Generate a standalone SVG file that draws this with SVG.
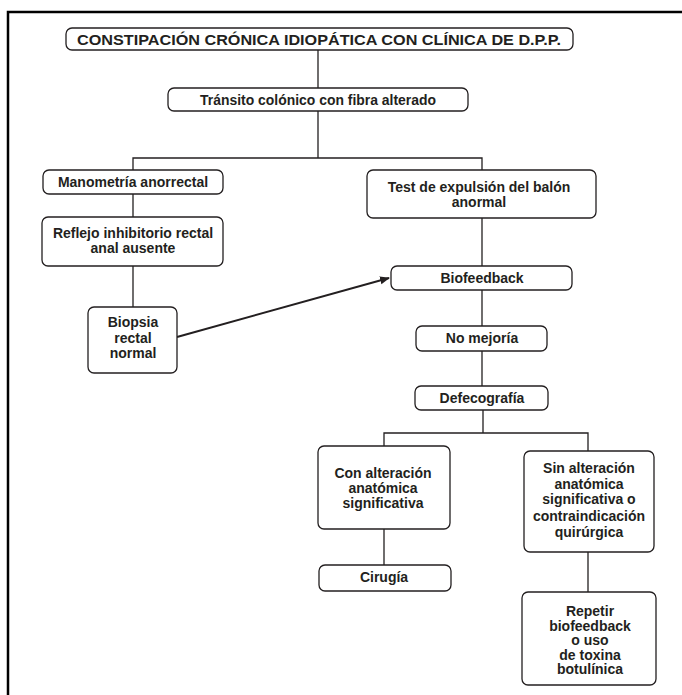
<svg xmlns="http://www.w3.org/2000/svg" width="682" height="695" viewBox="0 0 682 695">
<defs>
<style>
.b{fill:#fff;stroke:#231f20;stroke-width:1.3}
.t{font-family:"Liberation Sans",Arial,sans-serif;font-weight:bold;font-size:14px;fill:#231f20;text-anchor:middle}
.c{fill:none;stroke:#231f20;stroke-width:1.3}
</style>
<marker id="ah" viewBox="0 0 10 10" refX="9" refY="5" markerWidth="10" markerHeight="10" markerUnits="userSpaceOnUse" orient="auto"><path d="M0,1 L10,5 L0,9 z" fill="#231f20"/></marker>
</defs>
<rect width="682" height="695" fill="#fff"/>
<path d="M8,695 V12 H682" fill="none" stroke="#000" stroke-width="2.5"/>
<g id="connectors">
<path class="c" d="M318,50 V88"/>
<path class="c" d="M318,111 V158 M133,170 V158 H482 V170"/>
<path class="c" d="M133,194 V217"/>
<path class="c" d="M133,266 V307"/>
<path class="c" d="M482,218 V266"/>
<path class="c" d="M482,290 V326"/>
<path class="c" d="M482,351 V386"/>
<path class="c" d="M483,410 V433 M384,446 V433 H588 V451"/>
<path class="c" d="M384,529 V565"/>
<path class="c" d="M588,552 V592"/>
<path d="M177,337 L389,278" fill="none" stroke="#231f20" stroke-width="2" marker-end="url(#ah)"/>
</g>
<g id="n1"><rect class="b" x="66" y="28" width="507" height="22" rx="6"/><text class="t" x="319" y="44.5" style="font-size:15.5px" textLength="484" lengthAdjust="spacingAndGlyphs">CONSTIPACIÓN CRÓNICA IDIOPÁTICA CON CLÍNICA DE D.P.P.</text></g>
<g id="n2"><rect class="b" x="168" y="88" width="300" height="23" rx="6"/><text class="t" x="318" y="104.5" style="font-size:14.5px" textLength="236" lengthAdjust="spacingAndGlyphs">Tránsito colónico con fibra alterado</text></g>
<g id="n3"><rect class="b" x="43" y="170" width="180" height="24" rx="6"/><text class="t" x="133" y="187">Manometría anorrectal</text></g>
<g id="n4"><rect class="b" x="42" y="217" width="181" height="49" rx="6"/><text class="t" x="133" y="237.5">Reflejo inhibitorio rectal</text><text class="t" x="133" y="252.5">anal ausente</text></g>
<g id="n5"><rect class="b" x="88" y="307" width="89" height="66" rx="6"/><text class="t" x="133" y="327">Biopsia</text><text class="t" x="133" y="343">rectal</text><text class="t" x="133" y="358">normal</text></g>
<g id="n6"><rect class="b" x="367" y="170" width="229" height="48" rx="6"/><text class="t" x="479" y="192">Test de expulsión del balón</text><text class="t" x="479" y="207">anormal</text></g>
<g id="n7"><rect class="b" x="391" y="266" width="181" height="24" rx="6"/><text class="t" x="482" y="283">Biofeedback</text></g>
<g id="n8"><rect class="b" x="416" y="326" width="131" height="25" rx="6"/><text class="t" x="482" y="343">No mejoría</text></g>
<g id="n9"><rect class="b" x="415" y="386" width="133" height="24" rx="6"/><text class="t" x="482" y="403">Defecografía</text></g>
<g id="n10"><rect class="b" x="318" y="446" width="132" height="83" rx="6"/><text class="t" x="383" y="478">Con alteración</text><text class="t" x="383" y="493">anatómica</text><text class="t" x="383" y="508">significativa</text></g>
<g id="n11"><rect class="b" x="319" y="565" width="132" height="26" rx="6"/><text class="t" x="384" y="582">Cirugía</text></g>
<g id="n12"><rect class="b" x="524" y="451" width="130" height="101" rx="6"/><text class="t" x="589" y="473">Sin alteración</text><text class="t" x="589" y="488.5">anatómica</text><text class="t" x="589" y="504">significativa o</text><text class="t" x="589" y="521">contraindicación</text><text class="t" x="589" y="537">quirúrgica</text></g>
<g id="n13"><rect class="b" x="522" y="592" width="134" height="93" rx="6"/><text class="t" x="590" y="616">Repetir</text><text class="t" x="590" y="630.5">biofeedback</text><text class="t" x="590" y="645">o uso</text><text class="t" x="590" y="659.5">de toxina</text><text class="t" x="590" y="674">botulínica</text></g>
</svg>
